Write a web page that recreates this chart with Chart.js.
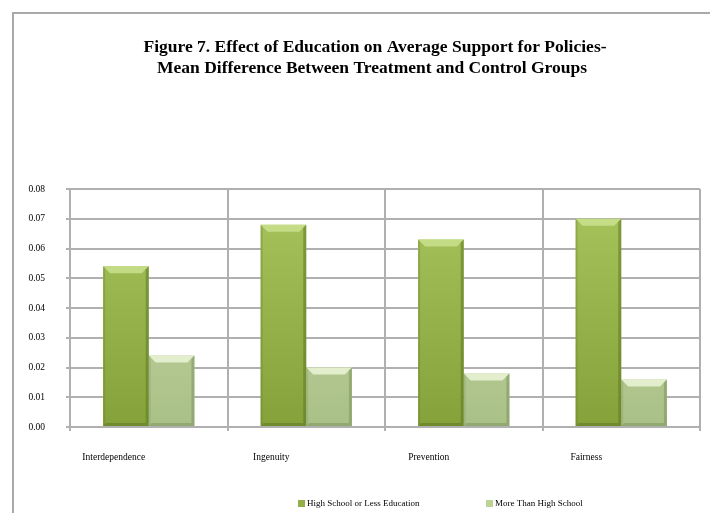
<!DOCTYPE html>
<html>
<head>
<meta charset="utf-8">
<script src="https://cdn.jsdelivr.net/npm/chart.js@4"></script>
<style>
  body { margin: 0; background: #fff; }
  #wrap { position: relative; width: 710px; height: 513px; }
  #frame {
    position: absolute; left: 12px; top: 12px; right: -10px; bottom: -10px;
    border-left: 2px solid #a9a9a9; border-top: 2px solid #a9a9a9;
    pointer-events: none;
  }
</style>
</head>
<body>
<div id="wrap">
  <canvas id="chart" width="710" height="513"></canvas>
  <div id="frame"></div>
</div>
<script>
const categories = ["Interdependence", "Ingenuity", "Prevention", "Fairness"];
const seriesNames = ["High School or Less Education", "More Than High School"];
const highSchoolOrLess = [0.054, 0.068, 0.063, 0.070];
const moreThanHighSchool = [0.024, 0.020, 0.018, 0.016];
const yTicks = [0, 0.01, 0.02, 0.03, 0.04, 0.05, 0.06, 0.07, 0.08];
const titleLines = [
  "Figure 7. Effect of Education on Average Support for Policies-",
  "Mean Difference Between Treatment and Control Groups"
];

const serif = "'Liberation Serif', 'Times New Roman', serif";
const legendSwatches = ["#92b046", "#bdd394"];

// vertical gradient per dataset, recomputed from the chart area
function barFill(top, bottom) {
  return (ctx) => {
    const area = ctx.chart.chartArea;
    if (!area) return bottom;
    const g = ctx.chart.ctx.createLinearGradient(0, area.top, 0, area.bottom);
    g.addColorStop(0, top);
    g.addColorStop(1, bottom);
    return g;
  };
}

// Excel-style bevel on each bar, drawn from the bar elements' own geometry
const bevel = {
  id: "bevel",
  afterDatasetsDraw(chart) {
    const ctx = chart.ctx;
    const shades = [
      { hi: "rgba(205,228,145,0.8)", edge: "rgba(95,120,35,0.55)" },
      { hi: "rgba(235,244,215,0.85)", edge: "rgba(120,145,90,0.5)" }
    ];
    chart.data.datasets.forEach((ds, di) => {
      const meta = chart.getDatasetMeta(di);
      meta.data.forEach((bar) => {
        const l = bar.x - bar.width / 2, r = bar.x + bar.width / 2;
        const t = bar.y, b = bar.base, d = 7;
        ctx.save();
        ctx.fillStyle = shades[di].hi;
        ctx.beginPath();
        ctx.moveTo(l, t); ctx.lineTo(r, t); ctx.lineTo(r - d, t + d); ctx.lineTo(l + d, t + d);
        ctx.closePath(); ctx.fill();
        ctx.fillStyle = shades[di].edge;
        ctx.beginPath();
        ctx.moveTo(r, t); ctx.lineTo(r, b); ctx.lineTo(r - 3, b - 3); ctx.lineTo(r - 3, t + 3);
        ctx.closePath(); ctx.fill();
        ctx.beginPath();
        ctx.moveTo(l, b); ctx.lineTo(r, b); ctx.lineTo(r - 3, b - 3); ctx.lineTo(l + 3, b - 3);
        ctx.closePath(); ctx.fill();
        ctx.globalAlpha = 0.5;
        ctx.beginPath();
        ctx.moveTo(l, t); ctx.lineTo(l, b); ctx.lineTo(l + 2, b - 2); ctx.lineTo(l + 2, t + 2);
        ctx.closePath(); ctx.fill();
        ctx.restore();
      });
    });
  }
};

// title and legend sit off-centre in the original, so place them by hand
const titleAndLegend = {
  id: "titleAndLegend",
  afterDraw(chart) {
    const ctx = chart.ctx;
    ctx.save();
    ctx.fillStyle = "#000";
    ctx.textAlign = "center";
    ctx.textBaseline = "middle";
    ctx.font = "bold 17.5px " + serif;
    ctx.fillText(titleLines[0], 375, 47);
    ctx.fillText(titleLines[1], 372, 68);

    ctx.font = "9px " + serif;
    ctx.textAlign = "left";
    const xs = [298, 486];
    seriesNames.forEach((name, i) => {
      ctx.fillStyle = legendSwatches[i];
      ctx.fillRect(xs[i], 500, 7, 7);
      ctx.fillStyle = "#000";
      ctx.fillText(name, xs[i] + 9, 504);
    });
    ctx.restore();
  }
};

new Chart(document.getElementById("chart"), {
  type: "bar",
  data: {
    labels: categories,
    datasets: [
      {
        label: seriesNames[0],
        data: highSchoolOrLess,
        backgroundColor: barFill("#a8c55e", "#84a13a"),
        categoryPercentage: 0.58,
        barPercentage: 1
      },
      {
        label: seriesNames[1],
        data: moreThanHighSchool,
        backgroundColor: barFill("#cadca6", "#a9c087"),
        categoryPercentage: 0.58,
        barPercentage: 1
      }
    ]
  },
  options: {
    responsive: false,
    animation: false,
    layout: { padding: { left: 12, right: 10, top: 189, bottom: 40 } },
    plugins: {
      title: { display: false },
      legend: { display: false },
      tooltip: { enabled: false }
    },
    scales: {
      x: {
        afterFit(scale) { scale.height = 46; },
        grid: { color: "#b0b0b0", lineWidth: 2, tickLength: 4, offset: true },
        border: { color: "#b0b0b0", width: 2 },
        ticks: {
          color: "#000",
          font: { family: serif, size: 9.5 },
          padding: 21,
          labelOffset: -35
        }
      },
      y: {
        min: 0,
        max: 0.08,
        afterFit(scale) { scale.width = 58; },
        afterBuildTicks(scale) { scale.ticks = yTicks.map((v) => ({ value: v })); },
        grid: { color: "#b0b0b0", lineWidth: 2, tickLength: 4 },
        border: { color: "#b0b0b0", width: 2 },
        ticks: {
          color: "#000",
          font: { family: serif, size: 9.5 },
          padding: 21,
          callback: (v) => v.toFixed(2)
        }
      }
    }
  },
  plugins: [bevel, titleAndLegend]
});
</script>
</body>
</html>
